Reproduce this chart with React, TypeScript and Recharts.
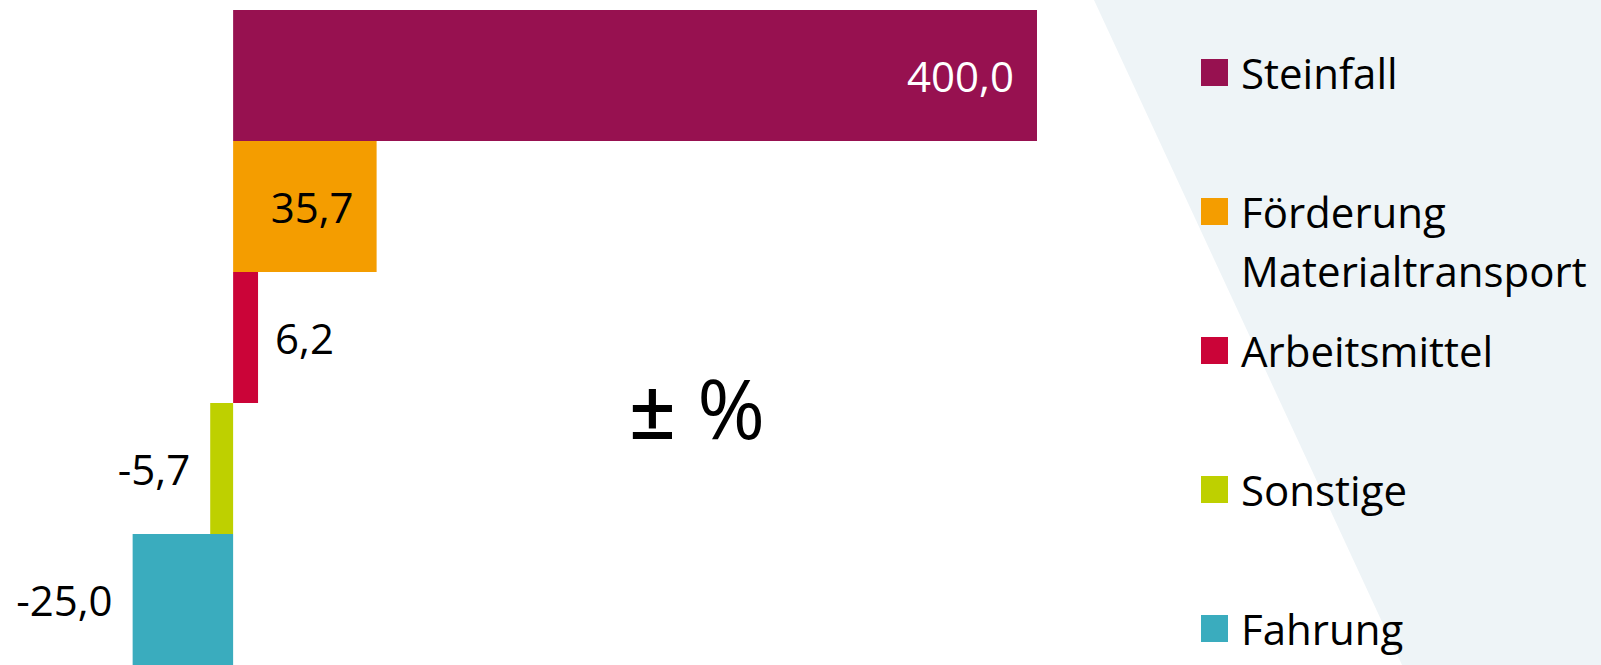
import { Bar, BarChart, Cell, LabelList, Legend, XAxis, YAxis } from "recharts";

const categories = ["Steinfall", "Förderung Materialtransport", "Arbeitsmittel", "Sonstige", "Fahrung"];
const changes = [400.0, 35.7, 6.2, -5.7, -25.0];
const colors = ["#971150", "#F49D00", "#CB0438", "#BED000", "#3AACBE"];
const axisDomain = [-58, 200];

const data = categories.map((name, i) => ({ name, value: changes[i] }));

const W = 1601;
const H = 665;
const margin = { top: 10, right: 564, bottom: 0, left: 0 };
const plotRight = W - margin.right;
const font = "'Open Sans', Calibri, sans-serif";

const fmt = (v: number) => v.toFixed(1).replace(".", ",");

function BarLabel(props: any) {
  const { x, y, width, height, value } = props;
  const start = Math.min(x, x + width);
  const end = Math.min(Math.max(x, x + width), plotRight);
  const cy = y + height / 2;
  const inside = end - start > 120;
  let tx: number;
  let anchor: "start" | "end";
  if (value >= 0) {
    tx = inside ? end - 23 : end + 17;
    anchor = inside ? "end" : "start";
  } else {
    tx = start - 20;
    anchor = "end";
  }
  const fill = value >= 100 ? "#ffffff" : "#000000";
  return (
    <text x={tx} y={cy} textAnchor={anchor} dominantBaseline="central" fill={fill} fontSize={42} fontFamily={font}>
      {fmt(value)}
    </text>
  );
}

function LegendBox() {
  return (
    <div style={{ fontFamily: font, fontSize: 42, color: "#000" }}>
      {categories.map((c, i) => (
        <div key={c} style={{ display: "flex", alignItems: "flex-start", height: 139 }}>
          <div style={{ width: 27, height: 27, background: colors[i], marginTop: 16, flex: "none" }} />
          <div style={{ marginLeft: 13, lineHeight: "59px", width: 350 }}>{c}</div>
        </div>
      ))}
    </div>
  );
}

export default function App() {
  return (
    <div style={{ position: "absolute", left: 0, top: 0, width: W, height: H, background: "#fff", overflow: "hidden" }}>
      <svg width={W} height={H} style={{ position: "absolute", left: 0, top: 0 }}>
        <polygon points={`1094,0 ${W},0 ${W},${H} 1402,${H}`} fill="#EEF4F7" />
      </svg>
      <div style={{ position: "absolute", left: 0, top: 0 }}>
        <BarChart width={W} height={H} data={data} layout="vertical" margin={margin} barCategoryGap={0}>
          <XAxis type="number" domain={axisDomain} allowDataOverflow hide />
          <YAxis type="category" dataKey="name" hide />
          <Legend
            layout="vertical"
            align="center"
            verticalAlign="middle"
            wrapperStyle={{ left: 1201, top: 43, width: 400 }}
            content={() => <LegendBox />}
          />
          <Bar dataKey="value" isAnimationActive={false}>
            {data.map((d, i) => (
              <Cell key={d.name} fill={colors[i]} />
            ))}
            <LabelList dataKey="value" content={BarLabel} />
          </Bar>
        </BarChart>
      </div>
      <div
        style={{
          position: "absolute",
          left: 697,
          top: 407,
          transform: "translate(-50%, -50%)",
          fontFamily: font,
          fontSize: 82,
          whiteSpace: "nowrap",
          color: "#000",
        }}
      >
        <span style={{ fontWeight: 600 }}>±</span> %
      </div>
    </div>
  );
}
